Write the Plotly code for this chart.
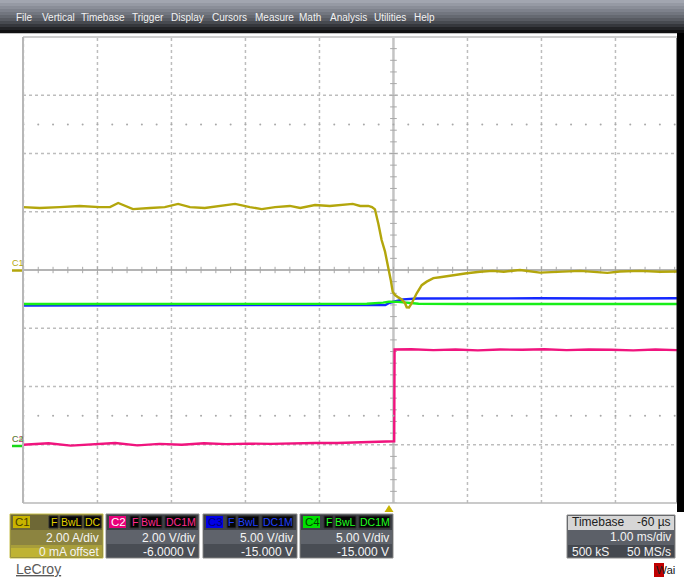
import plotly.graph_objects as go

# ---------------- data (time in ms, trigger at 0) ----------------
c1_t = [-4.95, -4.72, -4.45, -4.18, -3.91, -3.77, -3.66, -3.57, -3.46, -3.23, -3.03, -2.85,
        -2.69, -2.49, -2.28, -2.08, -1.88, -1.72, -1.54, -1.34, -1.20, -1.00, -0.80, -0.60,
        -0.49, -0.39, -0.28, -0.23,
        -0.19, -0.145, -0.10, -0.054, -0.009, 0.023, 0.05, 0.081, 0.126, 0.172, 0.216, 0.239,
        0.27, 0.307, 0.374, 0.442, 0.509, 0.599, 0.689, 0.869, 1.05, 1.23, 1.40, 1.55,
        1.77, 2.04, 2.31, 2.58, 2.95, 3.12, 3.39, 3.66, 3.89]
c1_a = [2.16, 2.13, 2.16, 2.20, 2.16, 2.16, 2.30, 2.20, 2.09, 2.13, 2.16, 2.27,
        2.16, 2.13, 2.20, 2.27, 2.16, 2.09, 2.16, 2.20, 2.13, 2.23, 2.20, 2.23,
        2.27, 2.20, 2.20, 2.16,
        2.08, 1.60, 1.03, 0.63, 0.11, -0.34, -0.75, -0.86, -0.94, -1.01, -1.14, -1.28,
        -1.29, -1.14, -0.80, -0.52, -0.40, -0.28, -0.25, -0.17, -0.11, -0.06, -0.03, -0.06,
        0.00, -0.09, -0.05, -0.03, -0.10, -0.05, -0.03, -0.06, -0.05]

c2_t = [-4.95, -4.6, -4.3, -4.0, -3.7, -3.4, -3.1, -2.8, -2.5, -2.2, -1.9, -1.6, -1.3,
        -1.0, -0.7, -0.4, -0.1, 0.070, 0.075, 0.3, 0.6, 0.9, 1.2, 1.5, 1.8, 2.1, 2.4,
        2.7, 3.0, 3.3, 3.6, 3.89]
c2_v = [0.00, 0.05, -0.03, 0.02, 0.06, -0.02, 0.03, 0.00, 0.05, 0.02, 0.04, 0.03, 0.05,
        0.06, 0.06, 0.08, 0.10, 0.12, 3.27, 3.28, 3.25, 3.27, 3.24, 3.27, 3.26, 3.28, 3.25,
        3.27, 3.26, 3.24, 3.27, 3.25]

c3_t = [-4.95, -3.5, -2.0, -1.0, -0.3, -0.05, 0.01, 0.19, 0.38, 1.0, 2.0, 3.0, 3.89]
c3_v = [11.95, 11.97, 11.95, 11.96, 11.97, 12.00, 12.19, 12.48, 12.55, 12.57, 12.57, 12.56, 12.57]

c4_t = [-4.95, -3.5, -2.0, -1.0, -0.3, -0.08, 0.0, 0.12, 0.25, 0.4, 1.0, 2.0, 3.0, 3.89]
c4_v = [12.08, 12.08, 12.10, 12.08, 12.10, 12.20, 12.28, 12.26, 12.17, 12.10, 12.08, 12.08, 12.06, 12.08]

# channel settings: (scale per div, offset)
ch_scale = {"C1": 2.0, "C2": 2.0, "C3": 5.0, "C4": 5.0}
ch_offset = {"C1": 0.0, "C2": -6.0, "C3": -15.0, "C4": -15.0}
ch_color = {"C1": "#b3a60c", "C2": "#f0147e", "C3": "#1428ff", "C4": "#18ee18"}

menu_items = ["File", "Vertical", "Timebase", "Trigger", "Display", "Cursors",
              "Measure", "Math", "Analysis", "Utilities", "Help"]
menu_x = [14, 40, 79, 130, 169, 210, 253, 297, 328, 372, 412]

trigger_delay = 0.06   # screen centre is at +60 us from trigger
x_lo, x_vis, x_hi = -4.946, 3.892, 3.986


def to_div(vals, ch):
    return [(v + ch_offset[ch]) / ch_scale[ch] for v in vals]


def px(x):
    return (x - 23) / 661


def py(y):
    return (503 - y) / 466


fig = go.Figure()

for ch, t, v in [("C3", c3_t, c3_v), ("C4", c4_t, c4_v), ("C2", c2_t, c2_v), ("C1", c1_t, c1_a)]:
    fig.add_trace(go.Scatter(x=t, y=to_div(v, ch), mode="lines",
                             line=dict(color=ch_color[ch], width=2.4),
                             hoverinfo="skip", showlegend=False))

# black strip beyond the visible screen edge (filled region)
fig.add_trace(go.Scatter(x=[x_vis, x_hi + 0.05, x_hi + 0.05, x_vis, x_vis],
                         y=[-4.2, -4.2, 4.2, 4.2, -4.2], mode="lines", fill="toself",
                         fillcolor="#000000", line=dict(color="#000000", width=1),
                         hoverinfo="skip", showlegend=False))

# dot rows at +-2.5 div
dot_x = [trigger_delay + k * 0.2 for k in range(-25, 20) if x_lo < trigger_delay + k * 0.2 < x_vis]
fig.add_trace(go.Scatter(x=dot_x + dot_x, y=[2.5] * len(dot_x) + [-2.5] * len(dot_x),
                         mode="markers", marker=dict(size=2, color="#a8a8a8"),
                         hoverinfo="skip", showlegend=False))

shapes = []
grid_col = "#bdbdbd"
R = px(677)
# vertical grid lines
for k in range(-5, 6):
    xv = trigger_delay + k
    if x_lo < xv < x_vis:
        if k == 0:
            shapes.append(dict(type="line", xref="x", yref="y", x0=xv, x1=xv, y0=-4, y1=4,
                               line=dict(color="#c4c4c4", width=2.5), layer="below"))
        else:
            shapes.append(dict(type="line", xref="x", yref="y", x0=xv, x1=xv, y0=-4, y1=4,
                               line=dict(color=grid_col, width=1.5, dash="dot"), layer="below"))
for k in range(-3, 4):
    if k == 0:
        shapes.append(dict(type="line", xref="paper", yref="y", x0=0, x1=R, y0=0, y1=0,
                           line=dict(color="#b4b4b4", width=2), layer="below"))
    else:
        shapes.append(dict(type="line", xref="paper", yref="y", x0=0, x1=R, y0=k, y1=k,
                           line=dict(color=grid_col, width=1.5, dash="dot"), layer="below"))
# minor ticks on centre lines
for k in range(-25, 20):
    xv = trigger_delay + k * 0.2
    if x_lo < xv < x_vis:
        shapes.append(dict(type="line", xref="x", yref="y", x0=xv, x1=xv, y0=-0.055, y1=0.055,
                           line=dict(color="#a8a8a8", width=1), layer="below"))
for k in range(-20, 21):
    yv = k * 0.2
    shapes.append(dict(type="line", xref="x", yref="y", x0=trigger_delay - 0.045,
                       x1=trigger_delay + 0.045, y0=yv, y1=yv,
                       line=dict(color="#a8a8a8", width=1), layer="below"))
# frame
shapes.append(dict(type="line", xref="paper", yref="paper", x0=0, x1=R, y0=py(37), y1=py(37),
                   line=dict(color="#cfcfcf", width=2)))
shapes.append(dict(type="line", xref="paper", yref="paper", x0=0, x1=0, y0=0, y1=py(37),
                   line=dict(color="#b8b8b8", width=2)))
shapes.append(dict(type="line", xref="paper", yref="paper", x0=0, x1=R, y0=0, y1=0,
                   line=dict(color="#b8b8b8", width=1.5)))


def rect(x0, y0, x1, y1, fill, line=None, lw=0):
    d = dict(type="rect", xref="paper", yref="paper", x0=px(x0), x1=px(x1), y0=py(y1), y1=py(y0),
             fillcolor=fill, line=dict(width=lw, color=line or fill), layer="above")
    shapes.append(d)


# menu bar gradient
menu_cols = ["#a2a6b0", "#969aa4", "#8a8e98", "#7e828c", "#72767f", "#656971", "#585b62",
             "#474a50", "#35373c", "#222326", "#111112"]
for i, c in enumerate(menu_cols):
    rect(0, i * 3, 684, i * 3 + 3.2, c)
# right black band above / below the plot area
rect(677, 33, 684, 38, "#000000")
rect(677, 502, 684, 512, "#000000")

# channel boxes
box_x = {"C1": (10, 103), "C2": (106, 199), "C3": (203, 297), "C4": (300, 393)}
for ch, (a, b) in box_x.items():
    if ch == "C1":
        rect(a, 514, b, 558, "#6e6836", line="#c8c04a", lw=1)
        rect(a + 1, 530, b - 1, 545, "#8c8440")
        rect(a + 1, 545, b - 1, 557, "#a89e3a")
        rect(a + 1, 548, a + 40, 557, "#bfb334")
    else:
        rect(a, 514, b, 558, "#3d4047", line="#8c8c8c", lw=1)
        rect(a + 1, 530, b - 1, 544, "#5f636b")
        rect(a + 1, 544, b - 1, 557, "#494d54")

label_bg = {"C1": "#c8b400", "C2": "#e8007a", "C3": "#0000e6", "C4": "#00e000"}
label_fg = {"C1": "#4a4200", "C2": "#ffffff", "C3": "#000070", "C4": "#004000"}
tag_col = {"C1": "#e0d000", "C2": "#ff2a90", "C3": "#2040ff", "C4": "#20ff20"}
vdiv = {"C1": "2.00 A/div", "C2": "2.00 V/div", "C3": "5.00 V/div", "C4": "5.00 V/div"}
voff = {"C1": "0 mA offset", "C2": "-6.0000 V", "C3": "-15.000 V", "C4": "-15.000 V"}

annotations = []


def text(x, y, s, color, size=11, anchor="left", family="Liberation Sans"):
    annotations.append(dict(xref="paper", yref="paper", x=px(x), y=py(y), text=s,
                            showarrow=False, xanchor=anchor, yanchor="middle",
                            font=dict(color=color, size=size, family=family)))


for ch, (a, b) in box_x.items():
    rect(a + 3, 516, a + 20, 528, label_bg[ch])
    text(a + 3, 522, ch, label_fg[ch], 11.5)
    if ch == "C1":
        tags = [("F", 49, 58), ("BwL", 60, 82), ("DC", 84, 101)]
    else:
        off = a - 106
        tags = [("F", 130 + off, 139 + off), ("BwL", 141 + off, 162 + off), ("DC1M", 165 + off, 196 + off)]
    for s, t0, t1 in tags:
        rect(t0, 516, t1, 528, "#050505", line="#303030", lw=1)
        annotations.append(dict(xref="paper", yref="paper", x=px((t0 + t1) / 2), y=py(522), text=s,
                                showarrow=False, xanchor="center", yanchor="middle",
                                font=dict(color=tag_col[ch], size=10.5, family="Liberation Sans")))
    text(b - 2, 538, vdiv[ch], "#f4f4f4", 12, "right")
    text(b - 2, 552, voff[ch], "#f4f4f4", 12, "right")

# timebase box
rect(567, 515, 675, 558, "#44484f", line="#8c8c8c", lw=1)
rect(568, 516, 674, 530, "#d6d6d6")
rect(568, 530, 674, 545, "#5c6068")
text(570, 522, "Timebase", "#202020", 12)
text(673, 522, "-60 µs", "#202020", 12, "right")
text(673, 537, "1.00 ms/div", "#f4f4f4", 12, "right")
text(570, 552, "500 kS", "#f4f4f4", 12)
text(673, 552, "50 MS/s", "#f4f4f4", 12, "right")

# wait indicator
rect(654, 563, 664, 577, "#c00000")
text(654, 570, "Wai", "#202020", 11.5)

# trigger marker
shapes.append(dict(type="path", xref="paper", yref="paper",
                   path=f"M {px(384.5)} {py(512)} L {px(393.5)} {py(512)} L {px(389)} {py(505)} Z",
                   fillcolor="#c8b400", line=dict(width=0)))

# left channel markers
shapes.append(dict(type="line", xref="paper", yref="paper", x0=px(12), x1=px(22), y0=py(270.5), y1=py(270.5),
                   line=dict(color="#b3a60c", width=2.5)))
shapes.append(dict(type="line", xref="paper", yref="paper", x0=px(12), x1=px(22), y0=py(446), y1=py(446),
                   line=dict(color="#18d818", width=2.5)))
text(10, 263, "C1", "#b3a60c", 9)
text(10, 439, "C2", "#d0207e", 9)
text(10, 439, "C4", "rgba(40,200,40,0.75)", 9)

# LeCroy logo
text(14, 569, "<u>LeCroy</u>", "#5a5a5a", 14)

# menu
for s, x in zip(menu_items, menu_x):
    text(x, 17, s, "#f2f2f2", 10)

fig.update_layout(
    width=684, height=579,
    margin=dict(l=23, r=0, t=37, b=76, pad=0),
    paper_bgcolor="white", plot_bgcolor="white",
    xaxis=dict(range=[x_lo, x_hi], showgrid=False, zeroline=False, showticklabels=False,
               ticks="", showline=False, fixedrange=True),
    yaxis=dict(range=[-4, 4], showgrid=False, zeroline=False, showticklabels=False,
               ticks="", showline=False, fixedrange=True),
    shapes=shapes, annotations=annotations, showlegend=False,
)

fig.write_html("out.html", config={"displayModeBar": False},
               post_script="document.body.style.margin='0';document.body.style.overflow='hidden';")
